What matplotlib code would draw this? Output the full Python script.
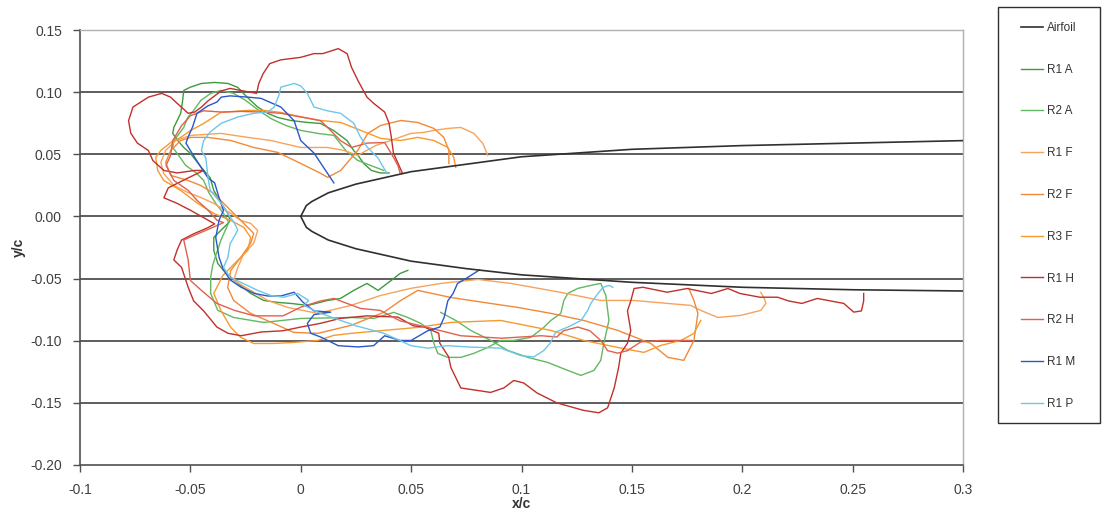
import numpy as np
import matplotlib
matplotlib.use("Agg")
from matplotlib import pyplot as plt
from matplotlib.patches import Rectangle

plt.rcParams['font.family'] = ['Liberation Sans', 'DejaVu Sans']

# airfoil contour (x/c, y/c), trailing part -> leading edge -> trailing part
airfoil_x = [0.3, 0.25, 0.2, 0.15, 0.1, 0.075, 0.05, 0.025, 0.0125, 0.005, 0.0025, 0.0,
             0.0025, 0.005, 0.0125, 0.025, 0.05, 0.075, 0.1, 0.15, 0.2, 0.25, 0.3]
airfoil_y = [0.061, 0.059, 0.057, 0.054, 0.048, 0.042, 0.036, 0.026, 0.019, 0.012, 0.0087, 0.0,
             -0.0087, -0.012, -0.019, -0.026, -0.036, -0.042, -0.047, -0.053, -0.057, -0.059, -0.060]

r1_a = [(0.040, 0.035), (0.036, 0.035), (0.032, 0.037), (0.0285, 0.0426), (0.026, 0.049), (0.024, 0.053),
        (0.021, 0.061), (0.015, 0.069), (0.009, 0.0748), (0.003, 0.0756), (-0.0045, 0.0772), (-0.0104, 0.0796),
        (-0.015, 0.083), (-0.0195, 0.088), (-0.0227, 0.0933), (-0.026, 0.099), (-0.0285, 0.1038), (-0.033, 0.107),
        (-0.039, 0.1078), (-0.045, 0.107), (-0.050, 0.104), (-0.053, 0.1014), (-0.0535, 0.0933), (-0.0544, 0.0829),
        (-0.0575, 0.0716), (-0.058, 0.0668), (-0.0557, 0.0611), (-0.053, 0.0555), (-0.050, 0.0507), (-0.045, 0.0394),
        (-0.041, 0.031), (-0.0394, 0.0209), (-0.036, 0.0105), (-0.033, 0.0024), (-0.032, -0.0032), (-0.033, -0.0056),
        (-0.0394, -0.0169), (-0.0394, -0.0274), (-0.0376, -0.0378), (-0.035, -0.0434), (-0.0285, -0.0539),
        (-0.0227, -0.0619), (-0.0168, -0.0676), (-0.0104, -0.0692), (-0.0045, -0.0700), (0.0032, -0.0716),
        (0.0122, -0.0676), (0.018, -0.066), (0.024, -0.0595), (0.030, -0.0539), (0.035, -0.0595), (0.041, -0.0515),
        (0.045, -0.0459), (0.0485, -0.0434)]

r2_a = [(0.0376, 0.037), (0.0317, 0.041), (0.0258, 0.0451), (0.0204, 0.0531), (0.015, 0.0652), (0.0077, 0.0668),
        (0.0, 0.0692), (-0.0068, 0.0732), (-0.0136, 0.0788), (-0.019, 0.0853), (-0.0249, 0.0933), (-0.0304, 0.099),
        (-0.0362, 0.1014), (-0.0408, 0.099), (-0.0453, 0.0933), (-0.0485, 0.0853), (-0.0512, 0.0796), (-0.053, 0.0716),
        (-0.0557, 0.0652), (-0.0575, 0.0611), (-0.058, 0.0555), (-0.0553, 0.0491), (-0.0521, 0.041), (-0.0476, 0.0354),
        (-0.044, 0.029), (-0.0417, 0.0193), (-0.0385, 0.0105), (-0.0353, 0.0032), (-0.0326, -0.0048), (-0.0362, -0.0193),
        (-0.0385, -0.0314), (-0.0399, -0.0394), (-0.0408, -0.0491), (-0.0408, -0.0619), (-0.0376, -0.0756),
        (-0.0304, -0.0813), (-0.0168, -0.0853), (0.0, -0.0821), (0.0227, -0.0813), (0.0331, -0.0821), (0.0421, -0.0772),
        (0.0485, -0.0813), (0.0544, -0.0861), (0.0589, -0.0917), (0.0603, -0.1022), (0.0621, -0.1102), (0.0666, -0.1134),
        (0.0725, -0.1134), (0.0784, -0.1102), (0.0847, -0.1054), (0.0906, -0.0998), (0.0965, -0.0998), (0.1042, -0.0973),
        (0.1101, -0.0893), (0.1133, -0.0837), (0.1178, -0.0780), (0.1192, -0.0676), (0.1210, -0.0619), (0.1255, -0.0579),
        (0.1314, -0.0555), (0.1359, -0.0539), (0.1382, -0.0636), (0.1396, -0.0837), (0.1373, -0.1022), (0.1359, -0.1158),
        (0.1328, -0.1239), (0.1269, -0.1279), (0.1210, -0.1239), (0.1119, -0.1175), (0.1029, -0.1134), (0.0938, -0.1078),
        (0.0861, -0.0998), (0.0770, -0.0917), (0.0702, -0.0837), (0.0634, -0.0772)]

r1_f = [(0.0847, 0.0491), (0.0825, 0.0587), (0.0784, 0.0668), (0.0725, 0.0716), (0.0666, 0.0708), (0.0603, 0.0692),
        (0.0557, 0.0676), (0.0498, 0.0668), (0.0408, 0.0611), (0.034, 0.0571), (0.0258, 0.0491), (0.0195, 0.0531),
        (0.0122, 0.0555), (0.0, 0.0555), (-0.0136, 0.0611), (-0.024, 0.0636), (-0.0362, 0.0668), (-0.0498, 0.0652),
        (-0.0566, 0.0611), (-0.0612, 0.0531), (-0.0634, 0.0434), (-0.0621, 0.0346), (-0.0575, 0.0249), (-0.0512, 0.0193),
        (-0.0453, 0.0153), (-0.0394, 0.0105), (-0.0317, 0.0024), (-0.0272, -0.0032), (-0.0227, -0.0056),
        (-0.0195, -0.0113), (-0.0213, -0.0217), (-0.0258, -0.0298), (-0.0285, -0.0410), (-0.0304, -0.0515),
        (-0.0227, -0.0595), (-0.0150, -0.0676), (-0.0059, -0.0732), (0.0077, -0.0780), (0.0227, -0.0716),
        (0.0362, -0.0636), (0.0498, -0.0579), (0.0634, -0.0539), (0.0802, -0.0507), (0.0952, -0.0539), (0.1178, -0.0611),
        (0.1359, -0.0676), (0.1509, -0.0676), (0.1663, -0.0700), (0.1767, -0.0716), (0.1812, -0.0756), (0.1889, -0.0813),
        (0.1994, -0.0796), (0.2084, -0.0756), (0.2107, -0.0700), (0.2098, -0.0652), (0.2084, -0.0611)]

r2_f = [(0.0671, 0.0426), (0.0671, 0.0531), (0.0648, 0.0636), (0.0603, 0.0708), (0.053, 0.0756), (0.0453, 0.0772),
        (0.0362, 0.0732), (0.0304, 0.0668), (0.0258, 0.0531), (0.0181, 0.0370), (0.0122, 0.0314), (0.0091, 0.0346),
        (0.0, 0.0426), (-0.0104, 0.0515), (-0.0213, 0.0555), (-0.0317, 0.0611), (-0.0421, 0.0636), (-0.0498, 0.0636),
        (-0.0544, 0.0611), (-0.0589, 0.0531), (-0.0612, 0.0434), (-0.0589, 0.0330), (-0.0512, 0.0290), (-0.0453, 0.0249),
        (-0.0394, 0.0185), (-0.0331, 0.0072), (-0.0285, -0.0008), (-0.0240, -0.0088), (-0.0213, -0.0137),
        (-0.0227, -0.0217), (-0.0272, -0.0330), (-0.0317, -0.0434), (-0.0331, -0.0571), (-0.0304, -0.0676),
        (-0.0227, -0.0780), (-0.0122, -0.0861), (-0.0032, -0.0933), (0.0077, -0.0941), (0.0227, -0.0877),
        (0.0376, -0.0772), (0.0453, -0.0676), (0.0530, -0.0595), (0.0680, -0.0652), (0.0829, -0.0692), (0.0983, -0.0732),
        (0.1133, -0.0780), (0.1282, -0.0837), (0.1436, -0.0917), (0.1586, -0.1022), (0.1663, -0.1134), (0.1735, -0.1158),
        (0.1781, -0.0998), (0.1790, -0.0893), (0.1799, -0.0780), (0.1781, -0.0676), (0.1758, -0.0579)]

r3_f = [(0.0702, 0.0394), (0.0693, 0.0475), (0.0666, 0.0555), (0.0603, 0.0611), (0.0530, 0.0636), (0.0453, 0.0611),
        (0.0362, 0.0628), (0.0272, 0.0692), (0.0181, 0.0756), (0.0091, 0.0772), (-0.0032, 0.0813), (-0.0091, 0.0837),
        (-0.0168, 0.0853), (-0.0240, 0.0853), (-0.0362, 0.0837), (-0.0440, 0.0748), (-0.0498, 0.0692), (-0.0544, 0.0636),
        (-0.0589, 0.0595), (-0.0634, 0.0531), (-0.0657, 0.0475), (-0.0648, 0.0370), (-0.0621, 0.0290), (-0.0544, 0.0209),
        (-0.0467, 0.0105), (-0.0394, 0.0024), (-0.0317, -0.0032), (-0.0258, -0.0088), (-0.0227, -0.0169),
        (-0.0240, -0.0274), (-0.0295, -0.0370), (-0.0353, -0.0475), (-0.0394, -0.0619), (-0.0362, -0.0756),
        (-0.0317, -0.0893), (-0.0272, -0.0973), (-0.0213, -0.1022), (-0.0122, -0.1022), (-0.0032, -0.1014),
        (0.0077, -0.0998), (0.0150, -0.0957), (0.0227, -0.0941), (0.0376, -0.0917), (0.0530, -0.0893), (0.0680, -0.0853),
        (0.0906, -0.0837), (0.1133, -0.0917), (0.1282, -0.0998), (0.1436, -0.1054), (0.1554, -0.1094), (0.1631, -0.1038),
        (0.1722, -0.0998), (0.1781, -0.0941), (0.1812, -0.0837)]

r1_h = [(0.046, 0.035), (0.044, 0.043), (0.042, 0.051), (0.041, 0.064), (0.040, 0.075), (0.038, 0.084), (0.033, 0.091),
        (0.030, 0.096), (0.026, 0.109), (0.023, 0.120), (0.021, 0.131), (0.017, 0.135), (0.010, 0.131), (0.006, 0.131),
        (0.000, 0.128), (-0.009, 0.126), (-0.014, 0.123), (-0.017, 0.115), (-0.019, 0.107), (-0.020, 0.099),
        (-0.026, 0.101), (-0.032, 0.103), (-0.036, 0.101), (-0.039, 0.097), (-0.042, 0.093), (-0.045, 0.088),
        (-0.048, 0.084), (-0.051, 0.083), (-0.056, 0.091), (-0.059, 0.096), (-0.063, 0.099), (-0.069, 0.096),
        (-0.076, 0.088), (-0.078, 0.077), (-0.077, 0.067), (-0.074, 0.059), (-0.069, 0.053), (-0.067, 0.045),
        (-0.062, 0.037), (-0.056, 0.035), (-0.048, 0.037), (-0.044, 0.037), (-0.051, 0.031), (-0.060, 0.023),
        (-0.062, 0.015), (-0.056, 0.0105), (-0.050, 0.005), (-0.044, -0.001), (-0.039, -0.006), (-0.042, -0.009),
        (-0.0485, -0.014), (-0.054, -0.019), (-0.056, -0.027), (-0.0575, -0.035), (-0.054, -0.041), (-0.051, -0.057),
        (-0.0485, -0.068), (-0.044, -0.076), (-0.038, -0.089), (-0.033, -0.094), (-0.027, -0.096), (-0.018, -0.093),
        (-0.008, -0.092), (0.000, -0.089), (0.009, -0.086), (0.018, -0.082), (0.030, -0.080), (0.044, -0.081),
        (0.051, -0.088), (0.056, -0.089), (0.0625, -0.094), (0.063, -0.102), (0.067, -0.113), (0.068, -0.1215),
        (0.0725, -0.138), (0.080, -0.140), (0.086, -0.1416), (0.092, -0.138), (0.0965, -0.132), (0.101, -0.134),
        (0.107, -0.142), (0.116, -0.150), (0.128, -0.156), (0.135, -0.158), (0.139, -0.154), (0.142, -0.138),
        (0.144, -0.1215), (0.145, -0.110), (0.148, -0.102), (0.1495, -0.092), (0.148, -0.076), (0.1495, -0.068),
        (0.151, -0.058), (0.155, -0.057), (0.166, -0.061), (0.175, -0.058), (0.186, -0.062), (0.1935, -0.058),
        (0.199, -0.062), (0.208, -0.065), (0.216, -0.065), (0.221, -0.068), (0.227, -0.070), (0.234, -0.066),
        (0.240, -0.068), (0.246, -0.070), (0.2505, -0.077), (0.254, -0.076), (0.255, -0.068), (0.255, -0.062)]

r2_h = [(0.045, 0.035), (0.044, 0.041), (0.042, 0.0475), (0.038, 0.0595), (0.030, 0.059), (0.023, 0.0555),
        (0.018, 0.061), (0.0136, 0.069), (0.009, 0.077), (0.000, 0.080), (-0.009, 0.083), (-0.018, 0.084),
        (-0.027, 0.0845), (-0.036, 0.084), (-0.044, 0.085), (-0.050, 0.081), (-0.054, 0.073), (-0.058, 0.061),
        (-0.059, 0.049), (-0.061, 0.041), (-0.0575, 0.029), (-0.051, 0.021), (-0.047, 0.013), (-0.042, 0.005),
        (-0.038, -0.003), (-0.035, -0.005), (-0.041, -0.0097), (-0.048, -0.015), (-0.053, -0.019), (-0.051, -0.035),
        (-0.050, -0.0515), (-0.045, -0.0595), (-0.038, -0.070), (-0.030, -0.0756), (-0.021, -0.080), (-0.008, -0.080),
        (0.000, -0.073), (0.009, -0.068), (0.015, -0.066), (0.021, -0.070), (0.027, -0.074), (0.036, -0.0756),
        (0.045, -0.084), (0.059, -0.090), (0.0725, -0.096), (0.091, -0.098), (0.109, -0.096), (0.116, -0.097),
        (0.119, -0.092), (0.1255, -0.089), (0.131, -0.092), (0.136, -0.100), (0.139, -0.108), (0.1436, -0.110),
        (0.148, -0.108), (0.154, -0.101), (0.163, -0.0998), (0.177, -0.0998)]

r1_m = [(0.015, 0.027), (0.009, 0.043), (0.006, 0.051), (0.0, 0.061), (-0.003, 0.077), (-0.009, 0.088), (-0.018, 0.095),
        (-0.024, 0.096), (-0.032, 0.097), (-0.036, 0.096), (-0.038, 0.092), (-0.042, 0.089), (-0.047, 0.083),
        (-0.049, 0.072), (-0.051, 0.064), (-0.052, 0.059), (-0.050, 0.053), (-0.045, 0.039), (-0.042, 0.031),
        (-0.039, 0.027), (-0.037, 0.015), (-0.035, 0.005), (-0.037, -0.003), (-0.0385, -0.017), (-0.037, -0.033),
        (-0.035, -0.043), (-0.032, -0.051), (-0.027, -0.057), (-0.021, -0.062), (-0.015, -0.064), (-0.009, -0.064),
        (-0.003, -0.061), (0.001, -0.069), (0.006, -0.076), (0.0136, -0.077), (0.006, -0.079), (0.003, -0.086),
        (0.0045, -0.094), (0.009, -0.097), (0.017, -0.104), (0.026, -0.105), (0.033, -0.104), (0.038, -0.096),
        (0.045, -0.0998), (0.050, -0.0998), (0.0575, -0.092), (0.063, -0.089), (0.065, -0.081), (0.0666, -0.068),
        (0.069, -0.062), (0.071, -0.054), (0.0757, -0.049), (0.081, -0.043)]

r1_p = [(0.039, 0.035), (0.0376, 0.039), (0.035, 0.047), (0.030, 0.056), (0.027, 0.064), (0.024, 0.075), (0.018, 0.083),
        (0.012, 0.085), (0.006, 0.088), (0.003, 0.099), (0.0, 0.105), (-0.003, 0.107), (-0.009, 0.104), (-0.010, 0.097),
        (-0.012, 0.088), (-0.015, 0.084), (-0.021, 0.083), (-0.0285, 0.080), (-0.036, 0.075), (-0.041, 0.068),
        (-0.044, 0.061), (-0.045, 0.053), (-0.043, 0.047), (-0.042, 0.031), (-0.041, 0.021), (-0.036, 0.0105),
        (-0.033, 0.0024), (-0.030, -0.0056), (-0.0285, -0.011), (-0.032, -0.022), (-0.033, -0.033), (-0.035, -0.041),
        (-0.032, -0.049), (-0.026, -0.054), (-0.0195, -0.0595), (-0.0136, -0.0636), (-0.0077, -0.065), (-0.0014, -0.062),
        (0.0036, -0.0676), (0.0014, -0.0716), (0.009, -0.078), (0.025, -0.088), (0.0376, -0.094), (0.050, -0.104),
        (0.0575, -0.106), (0.0666, -0.104), (0.0757, -0.105), (0.0906, -0.106), (0.0997, -0.112), (0.1056, -0.113),
        (0.110, -0.108), (0.113, -0.102), (0.1155, -0.093), (0.121, -0.089), (0.127, -0.0837), (0.130, -0.0756),
        (0.1314, -0.070), (0.1346, -0.062), (0.137, -0.057), (0.1396, -0.0555), (0.1414, -0.057)]

series_names = ["R1 A", "R2 A", "R1 F", "R2 F", "R3 F", "R1 H", "R2 H", "R1 M", "R1 P"]
series_data = [r1_a, r2_a, r1_f, r2_f, r3_f, r1_h, r2_h, r1_m, r1_p]
series_colors = ['#3f9a3f', '#62b862', '#f6a35c', '#f08a3a', '#f79a2e',
                 '#c0312b', '#e0604e', '#2a58c8', '#6ec6ea']

y_grid = [-0.15, -0.10, -0.05, 0.0, 0.05, 0.10]
x_ticks = [-0.1, -0.05, 0, 0.05, 0.1, 0.15, 0.2, 0.25, 0.3]
x_labels = ["-0.1", "-0.05", "0", "0.05", "0.1", "0.15", "0.2", "0.25", "0.3"]
y_ticks = [-0.20, -0.15, -0.10, -0.05, 0.00, 0.05, 0.10, 0.15]

W, H = 1103, 521
fig = plt.figure(figsize=(W / 100, H / 100), dpi=100)
ax = fig.add_axes([80 / W, 1 - 465 / H, 883 / W, 435 / H])

for yg in y_grid:
    ax.axhline(yg, color='#505050', linewidth=1.3, zorder=1)

handles = []
h, = ax.plot(airfoil_x, airfoil_y, color='#303030', linewidth=1.2, label="Airfoil", zorder=3)
handles.append(h)
for name, pts, col in zip(series_names, series_data, series_colors):
    arr = np.array(pts)
    h, = ax.plot(arr[:, 0], arr[:, 1], color=col, linewidth=1.0, label=name, zorder=2)
    handles.append(h)

ax.set_xlim(-0.1, 0.3)
ax.set_ylim(-0.2, 0.15)
ax.set_xticks(x_ticks)
ax.set_xticklabels(x_labels)
ax.set_yticks(y_ticks)
ax.set_yticklabels(["%.2f" % v for v in y_ticks])
ax.tick_params(direction='out', length=5, width=1, color='#505050', labelcolor='#404040', labelsize=10)
ax.tick_params(axis='x', pad=8)
ax.tick_params(axis='y', pad=8)
for side in ['left', 'bottom']:
    ax.spines[side].set_color('#505050')
    ax.spines[side].set_linewidth(1.2)
for side in ['top', 'right']:
    ax.spines[side].set_color('#b0b0b0')
    ax.spines[side].set_linewidth(1.0)

ax.set_xlabel("x/c", fontsize=10, fontweight='bold', color='#333333', labelpad=0)
ax.set_ylabel("y/c", fontsize=10, fontweight='bold', color='#333333', labelpad=3)

# legend box
fig.patches.append(Rectangle((998 / W, 1 - 423 / H), 102 / W, 416 / H, transform=fig.transFigure,
                             fill=False, edgecolor='#303030', linewidth=1.0))
fig.legend(handles=handles, loc='upper left', bbox_to_anchor=(1021 / W, 1 - 22 / H), frameon=False,
           fontsize=8.5, labelspacing=2.52, handlelength=1.9, handletextpad=0.3, borderpad=0, borderaxespad=0,
           labelcolor='#333333')

fig.savefig("out.png", dpi=100)
